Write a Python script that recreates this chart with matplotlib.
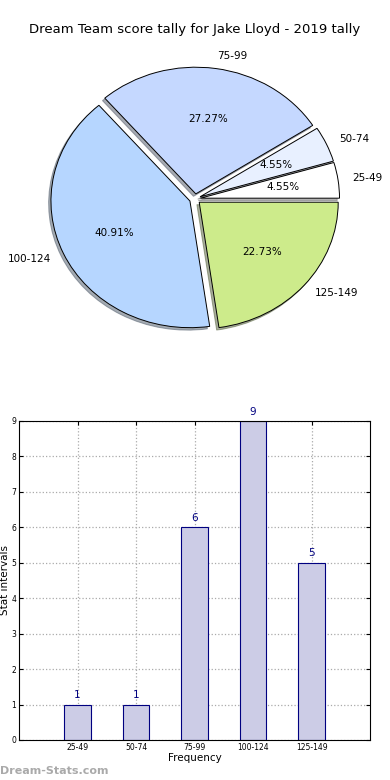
import numpy as np
import matplotlib
matplotlib.use('Agg')
import matplotlib.pyplot as plt

# data
intervals = ['25-49', '50-74', '75-99', '100-124', '125-149']
counts = [1, 1, 6, 9, 5]
pie_colors = ['#ffffff', '#e8f0ff', '#c5d8ff', '#b6d6ff', '#cdeb8b']
title = 'Dream Team score tally for Jake Lloyd - 2019 tally'

fig = plt.figure(figsize=(3.9, 7.8), dpi=100)

# pie (not equal aspect -> slightly elliptical like the reference)
ax_pie = fig.add_axes([0.0545, 0.542, 0.891, 0.406])
ax_pie.pie(counts, labels=intervals, colors=pie_colors, autopct='%.2f%%',
           explode=[0.04] * len(counts), shadow=dict(ox=-0.012, oy=-0.014, shade=0.6),
           startangle=0,
           wedgeprops=dict(edgecolor='black', linewidth=0.7),
           textprops=dict(fontsize=7.5))
ax_pie.set_xlim(-1.25, 1.25)
ax_pie.set_ylim(-1.25, 1.25)
ax_pie.set_aspect('auto')
fig.text(0.5, 0.962, title, ha='center', va='center', fontsize=9.5)

# bar chart
ax = fig.add_axes([0.0487, 0.0513, 0.9003, 0.409])
x = np.arange(1, len(counts) + 1)
ax.bar(x, counts, width=0.45, color='#ccccE6', edgecolor='#000080', linewidth=0.8, zorder=2)
for xi, c in zip(x, counts):
    ax.text(xi, c + 0.12, str(c), ha='center', va='bottom', fontsize=7.5, color='#000080')
ax.set_xlim(0, len(counts) + 1)
ax.set_ylim(0, max(counts))
ax.set_xticks(x)
ax.set_xticklabels(intervals, fontsize=5.5)
ax.set_yticks(range(0, max(counts) + 1))
ax.tick_params(axis='both', direction='in', length=3, pad=2, top=True, right=True)
ax.tick_params(axis='y', labelsize=5.5)
ax.grid(True, linestyle=':', color='#aaaaaa', linewidth=0.9, zorder=0)
ax.set_axisbelow(True)
ax.set_xlabel('Frequency', fontsize=7.5, labelpad=1)
ax.set_ylabel('Stat intervals', fontsize=7.5)
ax.yaxis.set_label_coords(-0.026, 0.5)

fig.text(0.0, 0.012, 'Dream-Stats.com', fontsize=8, color='#aaaaaa', fontweight='bold',
         ha='left', va='center')

fig.savefig('out.png', dpi=100)
